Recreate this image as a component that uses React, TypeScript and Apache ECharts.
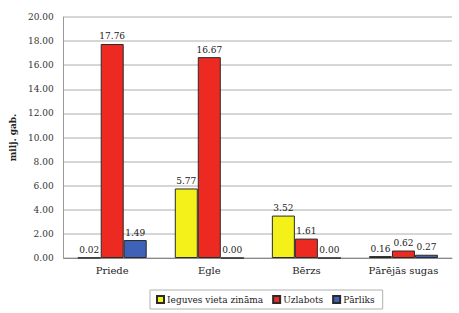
import React, { useEffect, useRef } from "react";
import * as echarts from "echarts";

const categories = ["Priede", "Egle", "Bērzs", "Pārējās sugas"];
const seriesNames = ["Ieguves vieta zināma", "Uzlabots", "Pārliks"];
const knownOrigin = [0.02, 5.77, 3.52, 0.16];
const improved = [17.76, 16.67, 1.61, 0.62];
const tested = [1.49, 0.0, 0.0, 0.27];
const colors = ["#F4F01A", "#EC2A22", "#3D62B8"];

export default function App() {
  const ref = useRef<HTMLDivElement>(null);
  useEffect(() => {
    if (!ref.current) return;
    const chart = echarts.init(ref.current, null, { renderer: "svg" });
    const font = "DejaVu Serif";
    const data = [knownOrigin, improved, tested];
    chart.setOption({
      animation: false,
      textStyle: { fontFamily: font },
      grid: { left: 63, right: 7, top: 17, bottom: 55, containLabel: false },
      legend: {
        bottom: 4,
        left: 150,
        data: seriesNames,
        itemWidth: 7,
        itemHeight: 7,
        itemGap: 9,
        borderColor: "#B0B0B0",
        borderWidth: 1,
        padding: [5, 8, 5, 6],
        textStyle: { fontFamily: font, fontSize: 9, color: "#222", padding: [0, 0, 0, -2] },
        icon: "rect",
      },
      xAxis: {
        type: "category",
        data: categories,
        axisTick: { show: false },
        axisLine: { lineStyle: { color: "#888", width: 1 } },
        axisLabel: { fontFamily: font, fontSize: 10, color: "#222", margin: 7 },
      },
      yAxis: {
        type: "value",
        min: 0,
        max: 20,
        interval: 2,
        name: "milj. gab.",
        nameLocation: "middle",
        nameGap: 43,
        nameTextStyle: { fontFamily: font, fontSize: 9, fontWeight: "bold", color: "#222" },
        axisLine: { show: true, lineStyle: { color: "#999" } },
        axisTick: { show: false },
        splitLine: { lineStyle: { color: "#C8C8C8", width: 1.5 } },
        axisLabel: {
          fontFamily: font,
          fontSize: 9,
          color: "#333",
          margin: 10,
          formatter: (v: number) => v.toFixed(2),
        },
      },
      series: seriesNames.map((name, i) => ({
        name,
        type: "bar",
        data: data[i],
        barWidth: 23,
        barGap: "0%",
        itemStyle: { color: colors[i], borderColor: "#2A2A2A", borderWidth: 1 },
        label: {
          show: true,
          position: "top",
          distance: 3,
          fontFamily: font,
          fontSize: 9,
          color: "#222",
          formatter: (p: any) => Number(p.value).toFixed(2),
        },
      })),
    });
    return () => chart.dispose();
  }, []);
  return (
    <div
      ref={ref}
      style={{ position: "absolute", left: 0, top: 0, width: 459, height: 313 }}
    />
  );
}
